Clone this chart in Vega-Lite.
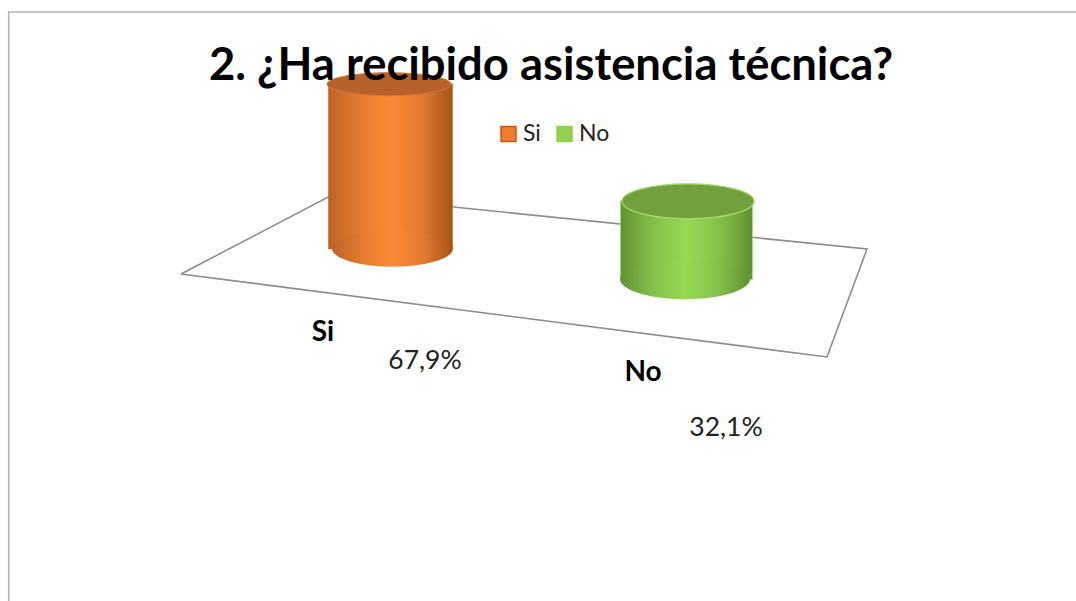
{
"$schema":"https://vega.github.io/schema/vega-lite/v6.json",
"width":1076,"height":601,"padding":0,"autosize":"none","background":"white",
"config":{"view":{"stroke":null},"axis":{"disable":true},"font":"Lato"},
"title":{"text":"2. ¿Ha recibido asistencia técnica?","anchor":"middle","frame":"group","offset":-125,"dx":13,"fontSize":45.4,"font":"Lato","fontWeight":"bold","color":"black","baseline":"alphabetic","zindex":1},
"datasets":{
"barras":[
{"categoria":"Si","valor":67.9,"base":12.6,"tope":80.5,"xIzq":329,"xDer":452,"xTecho":389,"xPie":392.5,"xRotulo":323,"yRotulo":-22.31,"etiqueta":"67,9%","xEtiqueta":425,"yEtiqueta":-33.88},
{"categoria":"No","valor":32.1,"base":0,"tope":32.1,"xIzq":621,"xDer":752,"xTecho":688,"xPie":685,"xRotulo":643,"yRotulo":-38.84,"etiqueta":"32,1%","xEtiqueta":726,"yEtiqueta":-61.57}
],
"contorno":[
{"linea":"marco","orden":1,"x":8.7,"y":-133.06},{"linea":"marco","orden":2,"x":8.7,"y":110.33},{"linea":"marco","orden":3,"x":1076,"y":110.33},
{"linea":"piso","orden":1,"x":181,"y":2.07},{"linea":"piso","orden":2,"x":332.5,"y":34.79},{"linea":"piso","orden":3,"x":867,"y":12.4},{"linea":"piso","orden":4,"x":827,"y":-32.23},{"linea":"piso","orden":5,"x":181,"y":2.07}
]},
"layer":[
{"data":{"name":"contorno"},"transform":[{"filter":"datum.linea==='marco'"}],"mark":{"type":"line","stroke":"#b2b2b2","strokeWidth":1.6},
"encoding":{"x":{"field":"x","type":"quantitative","scale":{"domain":[0,1076],"nice":false,"zero":false}},"y":{"field":"y","type":"quantitative","scale":{"domain":[-133.06,115.29],"nice":false,"zero":false}},"order":{"field":"orden"}}},
{"data":{"name":"contorno"},"transform":[{"filter":"datum.linea==='piso'"}],"mark":{"type":"line","stroke":"#8c8c8c","strokeWidth":1.6},
"encoding":{"x":{"field":"x","type":"quantitative"},"y":{"field":"y","type":"quantitative"},"order":{"field":"orden"}}},
{"data":{"name":"barras"},"mark":{"type":"bar","strokeWidth":1.5},
"encoding":{"x":{"field":"xIzq","type":"quantitative"},"x2":{"field":"xDer"},"y":{"field":"base","type":"quantitative"},"y2":{"field":"tope"},
"color":{"field":"categoria","type":"nominal","scale":{"domain":["Si","No"],"range":["#ed7d31","#92d050"]},
"legend":{"title":null,"orient":"none","legendX":497,"legendY":122,"direction":"horizontal","symbolType":"square","symbolSize":225,"symbolStrokeWidth":1.5,"labelFont":"Lato","labelFontSize":23,"labelColor":"#222222","labelOffset":3,"columnPadding":12,"clipHeight":24}},
"stroke":{"field":"categoria","type":"nominal","scale":{"domain":["Si","No"],"range":["#c55a11","#92d050"]},"legend":{"title":null}}}},
{"data":{"name":"barras"},"transform":[{"filter":"datum.categoria==='Si'"}],"mark":{"type":"bar","fill":{"gradient":"linear","x1":0,"y1":0,"x2":1,"y2":0,"stops":[{"offset":0,"color":"#bd6427"},{"offset":0.25,"color":"#e57a2f"},{"offset":0.5,"color":"#fb8a35"},{"offset":0.75,"color":"#e27a30"},{"offset":1,"color":"#a85518"}]}},
"encoding":{"x":{"field":"xIzq","type":"quantitative"},"x2":{"field":"xDer"},"y":{"field":"base","type":"quantitative"},"y2":{"field":"tope"}}},
{"data":{"name":"barras"},"transform":[{"filter":"datum.categoria==='No'"}],"mark":{"type":"bar","fill":{"gradient":"linear","x1":0,"y1":0,"x2":1,"y2":0,"stops":[{"offset":0,"color":"#5f9234"},{"offset":0.25,"color":"#84c04a"},{"offset":0.5,"color":"#96d955"},{"offset":0.75,"color":"#84c04a"},{"offset":1,"color":"#5f9234"}]}},
"encoding":{"x":{"field":"xIzq","type":"quantitative"},"x2":{"field":"xDer"},"y":{"field":"base","type":"quantitative"},"y2":{"field":"tope"}}},
{"data":{"name":"barras"},"transform":[{"filter":"datum.categoria==='Si'"}],"mark":{"type":"point","filled":true,"opacity":1,"size":14641,"shape":"M-1,0A1,0.3,0,1,1,1,0A1,0.3,0,1,1,-1,0Z","fill":{"gradient":"linear","x1":0,"y1":0,"x2":1,"y2":0,"stops":[{"offset":0,"color":"#bd6427"},{"offset":0.25,"color":"#e57a2f"},{"offset":0.5,"color":"#fb8a35"},{"offset":0.75,"color":"#e27a30"},{"offset":1,"color":"#a85518"}]}},
"encoding":{"x":{"field":"xPie","type":"quantitative"},"y":{"field":"base","type":"quantitative"}}},
{"data":{"name":"barras"},"transform":[{"filter":"datum.categoria==='No'"}],"mark":{"type":"point","filled":true,"opacity":1,"size":16900,"shape":"M-1,0A1,0.31,0,1,1,1,0A1,0.31,0,1,1,-1,0Z","fill":{"gradient":"linear","x1":0,"y1":0,"x2":1,"y2":0,"stops":[{"offset":0,"color":"#5f9234"},{"offset":0.25,"color":"#84c04a"},{"offset":0.5,"color":"#96d955"},{"offset":0.75,"color":"#84c04a"},{"offset":1,"color":"#5f9234"}]}},
"encoding":{"x":{"field":"xPie","type":"quantitative"},"y":{"field":"base","type":"quantitative"}}},
{"data":{"name":"barras"},"transform":[{"filter":"datum.categoria==='Si'"}],"mark":{"type":"point","filled":true,"opacity":1,"size":15376,"shape":"M-1,0A1,0.185,0,1,1,1,0A1,0.185,0,1,1,-1,0Z","fill":"#b7622a","stroke":"#d9762f","strokeWidth":1},
"encoding":{"x":{"field":"xTecho","type":"quantitative"},"y":{"field":"tope","type":"quantitative"}}},
{"data":{"name":"barras"},"transform":[{"filter":"datum.categoria==='No'"}],"mark":{"type":"point","filled":true,"opacity":1,"size":17424,"shape":"M-1,0A1,0.265,0,1,1,1,0A1,0.265,0,1,1,-1,0Z","fill":"#71a03d","stroke":"#a6de6e","strokeWidth":1.2},
"encoding":{"x":{"field":"xTecho","type":"quantitative"},"y":{"field":"tope","type":"quantitative"}}},
{"data":{"name":"barras"},"mark":{"type":"text","font":"Lato","fontWeight":"bold","fontSize":28,"color":"black","align":"center","baseline":"middle"},
"encoding":{"x":{"field":"xRotulo","type":"quantitative"},"y":{"field":"yRotulo","type":"quantitative"},"text":{"field":"categoria"}}},
{"data":{"name":"barras"},"mark":{"type":"text","font":"Lato","fontSize":26.5,"color":"#222222","align":"center","baseline":"middle"},
"encoding":{"x":{"field":"xEtiqueta","type":"quantitative"},"y":{"field":"yEtiqueta","type":"quantitative"},"text":{"field":"etiqueta"}}}
]
}
